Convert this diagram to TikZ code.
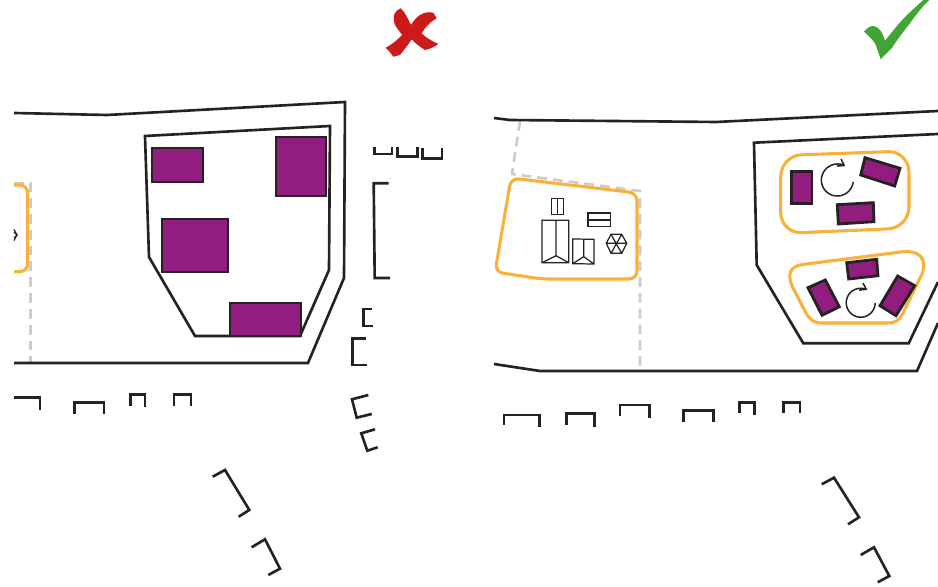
\documentclass[tikz,border=0pt]{standalone}
\usepackage{tikz}
\usetikzlibrary{arrows.meta}
\definecolor{plotpurple}{RGB}{147,28,127}
\definecolor{siteyellow}{RGB}{249,177,58}
\definecolor{markred}{RGB}{204,26,26}
\definecolor{markgreen}{RGB}{63,165,53}
\definecolor{darkline}{RGB}{35,35,35}
\tikzset{
  wall/.style={darkline,line width=1.5pt,line join=miter},
  lot/.style={black!20,line width=1.5pt,dash pattern=on 5.6pt off 3.4pt},
  site/.style={siteyellow,line width=1.75pt},
  plot/.style={fill=plotpurple,draw=darkline,line width=1.6pt},
  roof/.style={darkline,line width=.7pt},
  turn/.style={darkline,line width=.85pt,-{Straight Barb[length=3.4pt,width=4.6pt]}}
}
\begin{document}
\begin{tikzpicture}[x=.02cm,y=-.02cm]
\useasboundingbox (0,0) rectangle (938,587);
\fill[white] (0,0) rectangle (938,587);
% marks
\fill[markred] (394,15) .. controls (396,11) and (398,9) .. (400.7,8.3) .. controls (405,12) and (408,19) .. (411,25) .. controls (414,20) and (417,17) .. (420,15) .. controls (425,12) and (429,12) .. (433.3,12.7) -- (436.7,18.3) .. controls (430,22) and (425,27) .. (421.7,33.3) .. controls (426,38) and (432,41) .. (438.3,44) .. controls (434,47) and (430,49) .. (425,50) .. controls (420,47) and (415,43) .. (411.7,39.3) .. controls (408,45) and (404,50) .. (400,55) -- (393.3,56.7) .. controls (391,53) and (388,50) .. (385.7,47.7) .. controls (389,46) and (392,44) .. (395,41.7) .. controls (398,39) and (400,37) .. (402.3,35) .. controls (399,31) and (397,28) .. (395,25) .. controls (394,21) and (393,18) .. (394,15) -- cycle;
\fill[markgreen] (864,31.7) .. controls (867,28) and (870,26) .. (873.3,26) .. controls (876,26) and (878,28) .. (880,30) .. controls (882,33) and (884,37) .. (885,40.7) .. controls (892,32) and (899,23) .. (907,15) -- (923.3,0) -- (929.3,0) .. controls (921,8) and (915,16) .. (910,23.3) .. controls (903,32) and (897,40) .. (891.7,48.3) -- (880.7,59.3) .. controls (879,54) and (877,48) .. (875,43.3) .. controls (872,39) and (868,35) .. (864,31.7) -- cycle;
% left panel
\draw[lot] (14,183.3) -- (30.7,183.3) -- (30.7,363);
\draw[wall] (14,113) -- (107,115) -- (345,102) -- (344,278) -- (308,363) -- (14,363);
\draw[wall] (145,136) -- (330,126) -- (329,270) -- (300,336) -- (195,336) -- (149,257) -- cycle;
\draw[plot] (152,148) rectangle (203,182);
\draw[plot] (276,137) rectangle (326,196);
\draw[plot] (162,219) rectangle (228,272);
\draw[plot] (230,303) rectangle (301,336);
\draw[site,rounded corners=.16cm] (14,185) -- (27.7,185) -- (27.7,271.7) -- (14,271.7);
\draw[roof] (14,229.5) -- (17,235) -- (14,240.5);
\draw[roof] (14,232) -- (17,235) -- (14,238);
% left panel, neighbours
\draw[wall] (374.3,147.3) -- (374.3,154) -- (392,154) -- (392,147.3);
\draw[wall] (397.7,147.3) -- (397.7,156.7) -- (417.3,156.7) -- (417.3,147.3);
\draw[wall] (422.7,148) -- (422.7,158.7) -- (442,158.7) -- (442,148);
\draw[wall] (388.7,183.3) -- (373.7,183.3) -- (374.7,278) -- (390,278);
\draw[wall] (372.3,309) -- (363.3,309) -- (363.3,326) -- (373.3,326);
\draw[wall] (365.7,338.3) -- (352.3,338.3) -- (352.3,365) -- (367.3,365);
\draw[wall] (368.3,395) -- (352,399.3) -- (356.7,417.7) -- (371.7,414);
\draw[wall] (375,429.3) -- (361.3,433.3) -- (367.3,450.7) -- (377.7,447.3);
\draw[wall] (14.3,397.7) -- (40,397.7) -- (40,410);
\draw[wall] (74.7,414.3) -- (74.7,402.7) -- (104,402.7) -- (104,414.3);
\draw[wall] (130.7,405.7) -- (130.7,394.3) -- (145,394.3) -- (145,407);
\draw[wall] (174,405.7) -- (174,394.3) -- (191,394.3) -- (191,405.7);
\draw[wall] (212.7,476.7) -- (225,470) -- (249.3,510) -- (238.7,516.7);
\draw[wall] (251.7,547.3) -- (265,539.3) -- (280,568.7) -- (268.3,575);
% right panel
\draw[lot] (520,121) -- (512,174) -- (640,191) -- (640,371);
\draw[wall] (494,118) -- (510,120) -- (716,122) -- (938,111);
\draw[wall] (494,364) -- (540,371) -- (917,371) -- (938,323);
\draw[wall] (938,134) -- (754,142.7) -- (756.7,265) -- (803.3,343.3) -- (908.7,343.3) -- (938,282);
\draw[site,rounded corners=.16cm] (511,178) -- (637,193) -- (637,279) -- (542,279) -- (495,272) -- cycle;
\draw[roof] (551.3,198.3) rectangle (563.3,214.3) (557.3,198.3) -- (557.3,214.3);
\draw[roof] (542,220.3) rectangle (568.7,262.7) (556,220.3) -- (556,255.7) (542,262.7) -- (556,255.7) -- (568.7,262.7);
\draw[roof] (572.7,239) -- (594,239.3) -- (594,264) -- (572.7,263.7) -- cycle (583.7,239) -- (583.7,256.7) (572.7,263.7) -- (583.7,256.7) -- (594,264);
\draw[roof] (588,213) rectangle (610.7,226.7) (588,220) -- (610.7,220);
\draw[roof] (606.3,243.3) -- (611,234.3) -- (621.7,234.3) -- (626.7,243.3) -- (621.7,253.3) -- (611,253.3) -- cycle (606.3,243.3) -- (626.7,243.3) (611,234.3) -- (621.7,253.3) (621.7,234.3) -- (611,253.3);
\draw[site,rounded corners=.42cm] (780.7,155.5) -- (909,151) -- (909,228) -- (780.7,233.5) -- cycle;
\draw[plot] (791.7,171.7) rectangle (812,203.3);
\draw[plot] (865,157.7) -- (900,168.3) -- (894.7,186) -- (860.7,175) -- cycle;
\draw[plot] (837.3,204.7) -- (873.3,202.7) -- (874,221.7) -- (838.3,224) -- cycle;
\draw[turn] (853.2,182) arc[start angle=7,end angle=300,radius=16];
\draw[site] (803,264.5) -- (903,251.7) .. controls (918,250) and (928,258) .. (922,274) -- (903,313) .. controls (899,321) and (895,323) .. (887,323) -- (822,323) .. controls (813,323) and (809,319) .. (805,311) -- (793,288) .. controls (786,273) and (791,266) .. (803,264.5) -- cycle;
\draw[plot] (846.7,262.7) -- (876.7,259.3) -- (878,275.7) -- (848.7,279) -- cycle;
\draw[plot] (808,287.7) -- (825.3,280) -- (839.3,306.7) -- (822,315.3) -- cycle;
\draw[plot] (897.7,276) -- (914.7,285.7) -- (896,315.7) -- (880,305.7) -- cycle;
\draw[turn] (875.2,303) arc[start angle=1,end angle=298,radius=14.5];
% right panel, neighbours
\draw[wall] (504,425) -- (504,415) -- (539.3,415) -- (539.3,426.7);
\draw[wall] (566.7,425) -- (566.7,413.3) -- (594.3,413.3) -- (594.3,426.7);
\draw[wall] (620,416) -- (620,405) -- (649.3,405) -- (649.3,418.3);
\draw[wall] (683.7,421.7) -- (683.7,410.3) -- (713.3,410.3) -- (713.3,421.7);
\draw[wall] (739.7,413.3) -- (739.7,402.3) -- (754.3,402.3) -- (754.3,415);
\draw[wall] (783.3,413.3) -- (783.3,402.3) -- (800,402.3) -- (800,413.3);
\draw[wall] (821.7,484.3) -- (834,477.7) -- (859,517.3) -- (848,524.3);
\draw[wall] (860.7,555) -- (874,547.3) -- (889.3,576) -- (877.7,582.3);
\end{tikzpicture}
\end{document}
